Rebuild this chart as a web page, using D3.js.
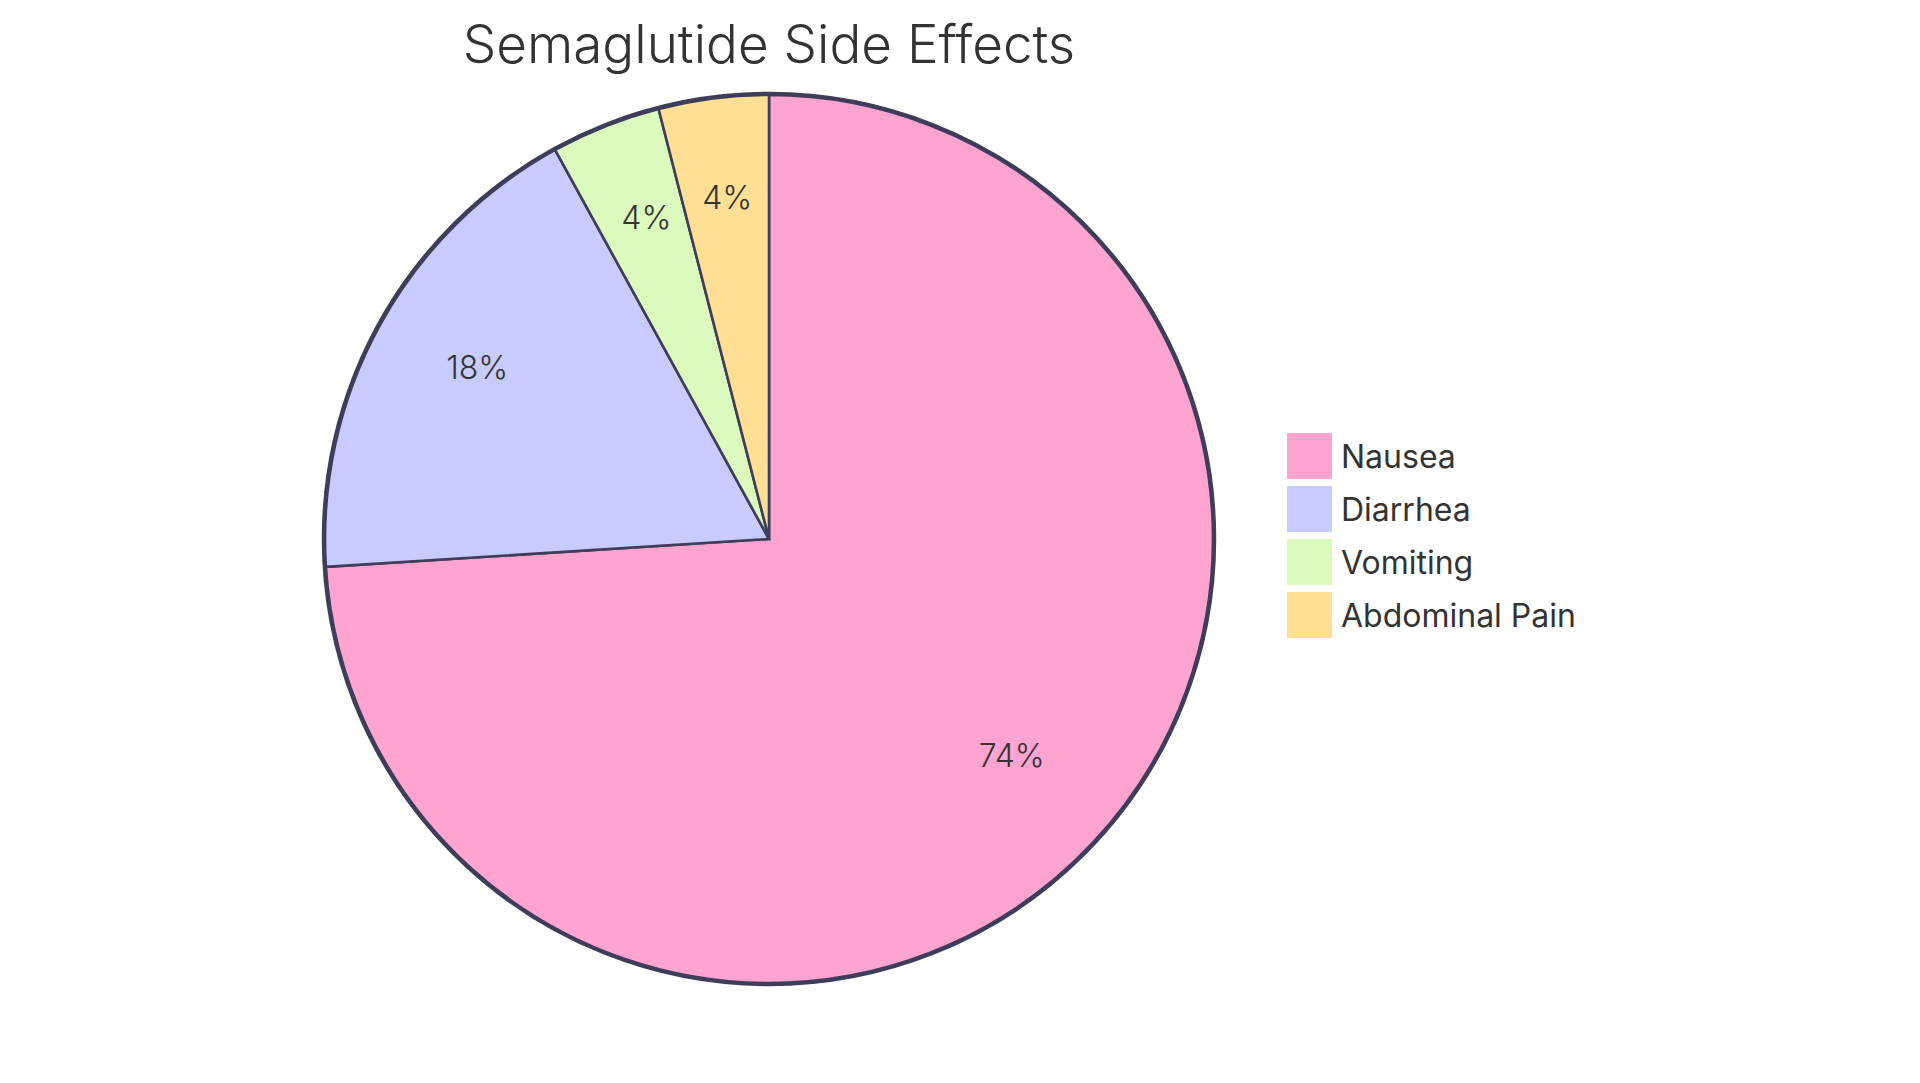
<!doctype html>
<html lang="en">
  <head>
    <meta charset="utf-8" />
    <title>Semaglutide Side Effects</title>
    <script src="https://cdn.jsdelivr.net/npm/d3@7"></script>
    <style>
      html, body { margin: 0; padding: 0; background: #fff; }
      svg { display: block; font-family: Inter, "Noto Sans", sans-serif; }
    </style>
  </head>
  <body>
    <svg id="chart" width="1920" height="1083"></svg>
    <script>
      const title = 'Semaglutide Side Effects';
      const categories = ['Nausea', 'Diarrhea', 'Vomiting', 'Abdominal Pain'];
      const values = [74, 18, 4, 4];
      const colors = ['#ffa3d0', '#c8cbfe', '#dcfabe', '#ffdf94'];

      const svg = d3.select('#chart');
      const cx = 769;
      const cy = 539;
      const radius = 444;
      const textColor = '#333';
      const strokeColor = '#3e3e5a';

      const data = categories.map((name, i) => ({ name, value: values[i], color: colors[i] }));
      const total = d3.sum(values);

      const pie = d3.pie().value((d) => d.value);
      const arcs = pie(data);
      const arc = d3.arc().innerRadius(0).outerRadius(radius);
      const labelArc = d3.arc().innerRadius(radius * 0.75).outerRadius(radius * 0.75);

      const g = svg.append('g').attr('transform', `translate(${cx},${cy})`);

      // outer ring first, slices on top of it
      g.append('circle')
        .attr('r', radius + 1)
        .attr('fill', 'none')
        .attr('stroke', strokeColor)
        .attr('stroke-width', 4.5);

      g.selectAll('path.slice')
        .data(arcs)
        .join('path')
        .attr('class', 'slice')
        .attr('d', arc)
        .attr('fill', (d) => d.data.color)
        .attr('stroke', strokeColor)
        .attr('stroke-width', 2.6);

      g.selectAll('text.pct')
        .data(arcs)
        .join('text')
        .attr('class', 'pct')
        .attr('transform', (d) => `translate(${labelArc.centroid(d)})`)
        .attr('text-anchor', 'middle')
        .attr('font-size', 32)
        .attr('font-weight', 300)
        .attr('fill', textColor)
        .text((d) => ((d.data.value / total) * 100).toFixed(0) + '%');

      svg.append('text')
        .attr('x', cx)
        .attr('y', 63)
        .attr('text-anchor', 'middle')
        .attr('font-size', 53)
        .attr('font-weight', 300)
        .attr('fill', textColor)
        .text(title);

      // legend
      const legend = svg.append('g').attr('transform', 'translate(1287,433)');
      const rows = legend.selectAll('g')
        .data(data)
        .join('g')
        .attr('transform', (d, i) => `translate(0,${i * 53})`);
      rows.append('rect')
        .attr('width', 45)
        .attr('height', 46)
        .attr('fill', (d) => d.color);
      rows.append('text')
        .attr('x', 54)
        .attr('y', 35)
        .attr('font-size', 32)
        .attr('fill', textColor)
        .text((d) => d.name);
    </script>
  </body>
</html>
